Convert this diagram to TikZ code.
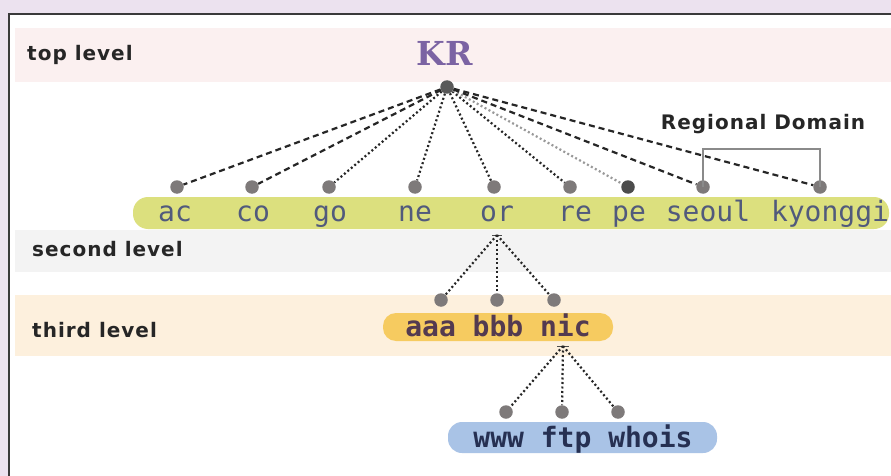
\documentclass[tikz,border=0pt]{standalone}
\usepackage{fontspec}
\setmainfont{DejaVu Sans}
\newfontfamily\lvlfont[LetterSpace=5]{DejaVu Sans}
\newfontfamily\domfont{DejaVu Sans Mono}
\newfontfamily\krfont{DejaVu Serif}
\usetikzlibrary{positioning}
\definecolor{lilac}{HTML}{ECE2EF}
\definecolor{frame}{HTML}{3A3A3A}
\definecolor{topband}{HTML}{FBF0F0}
\definecolor{secband}{HTML}{F3F3F3}
\definecolor{thrband}{HTML}{FDF0DD}
\definecolor{greenpill}{HTML}{DCE07E}
\definecolor{yellowpill}{HTML}{F6CB60}
\definecolor{bluepill}{HTML}{A9C3E6}
\definecolor{krpurple}{HTML}{7B63A3}
\definecolor{domtext}{HTML}{515A7C}
\definecolor{subtext}{HTML}{533A50}
\definecolor{hosttext}{HTML}{263052}
\definecolor{dotgray}{HTML}{7E7A7A}
\definecolor{bracket}{HTML}{8A8A8A}

\begin{document}
\begin{tikzpicture}[x=1pt, y=-1pt, >=stealth]
\tikzstyle{v}=[circle, fill=dotgray, minimum size=13.5pt, inner sep=0pt]
\tikzstyle{lvl}=[font=\lvlfont\bfseries\fontsize{20}{22}\selectfont, anchor=base west, text=black!85, inner sep=0pt]
\tikzstyle{dom}=[font=\domfont\fontsize{28}{30}\selectfont, text=domtext, anchor=base, inner sep=0pt]
\tikzstyle{sub}=[font=\domfont\bfseries\fontsize{28}{30}\selectfont, text=subtext, anchor=base, inner sep=0pt]
\tikzstyle{host}=[font=\domfont\bfseries\fontsize{28}{30}\selectfont, text=hosttext, anchor=base, inner sep=0pt]
\tikzstyle{dashlink}=[line width=2.2pt, dash pattern=on 6pt off 4pt, black!85]
\tikzstyle{dotlink}=[line width=2.2pt, dash pattern=on 2pt off 2.5pt, black!85]
\useasboundingbox (0,0) rectangle (891,476);
% background and bands
\fill[lilac] (0,0) rectangle (891,476);
\fill[white] (9,14) rectangle (891,476);
\draw[frame, line width=1.2pt] (9,476) -- (9,14) -- (891,14);
\fill[topband] (15,28) rectangle (891,82);
\fill[secband] (15,230) rectangle (891,272);
\fill[thrband] (15,295) rectangle (891,356);
\fill[greenpill, rounded corners=15pt] (133,197) rectangle (889,229);
\fill[yellowpill, rounded corners=13pt] (383,313) rectangle (613,341);
\fill[bluepill, rounded corners=14pt] (448,422) rectangle (717,453);
% level labels
\node[lvl] (top) at (27,61) {top level};
\node[lvl] (second) at (32,256) {second level};
\node[lvl] (third) at (32,337) {third level};
\node[lvl, anchor=base] (regional) at (763,129) {Regional Domain};
% root
\node[font=\krfont\bfseries\fontsize{33}{36}\selectfont, text=krpurple, inner sep=0pt] (kr) at (445,53) {KR};
\node[v, fill=black!65] (root) at (447,87) {};
% second level
\node[dom] (ac) at (175,221) {ac};
\node[dom] (co) at (253,221) {co};
\node[dom] (go) at (330,221) {go};
\node[dom] (ne) at (415,221) {ne};
\node[dom] (or) at (497,221) {or};
\node[dom] (re) at (575,221) {re};
\node[dom] (pe) at (629,221) {pe};
\node[dom] (seoul) at (708,221) {seoul};
\node[dom] (kyonggi) at (830,221) {kyonggi};
\node[v] (vac) at (177,187) {};
\node[v] (vco) at (252,187) {};
\node[v] (vgo) at (329,187) {};
\node[v] (vne) at (415,187) {};
\node[v] (vor) at (494,187) {};
\node[v] (vre) at (570,187) {};
\node[v, fill=black!70] (vpe) at (628,187) {};
\node[v] (vseoul) at (703,187) {};
\node[v] (vkyonggi) at (820,187) {};
\draw[dashlink] (root) to (vac);
\draw[dashlink] (root) to (vco);
\draw[dotlink] (root) to (vgo);
\draw[dotlink] (root) to (vne);
\draw[dotlink] (root) to (vor);
\draw[dotlink] (root) to (vre);
\draw[dotlink, black!40] (root) to (vpe);
\draw[dashlink] (root) to (vseoul);
\draw[dashlink] (root) to (vkyonggi);
\draw[bracket, line width=2.5pt] (vseoul.center) -- (703,149) -- (820,149) -- (vkyonggi.center);
% third level
\coordinate (orfork) at (497,235);
\draw[black!70, line width=1pt] (492,235) -- (502,235);
\node[sub] (aaa) at (498,336) {aaa bbb nic};
\node[v] (vaaa) at (441,300) {};
\node[v] (vbbb) at (497,300) {};
\node[v] (vnic) at (554,300) {};
\draw[dotlink] (orfork) to (vaaa);
\draw[dotlink] (orfork) to (vbbb);
\draw[dotlink] (orfork) to (vnic);
% hosts
\coordinate (nicfork) at (563,346);
\draw[black!70, line width=1pt] (557,346) -- (569,346);
\node[host] (hosts) at (583,447) {www ftp whois};
\node[v] (vwww) at (506,412) {};
\node[v] (vftp) at (562,412) {};
\node[v] (vwhois) at (618,412) {};
\draw[dotlink] (nicfork) to (vwww);
\draw[dotlink] (nicfork) to (vftp);
\draw[dotlink] (nicfork) to (vwhois);
\end{tikzpicture}
\end{document}
